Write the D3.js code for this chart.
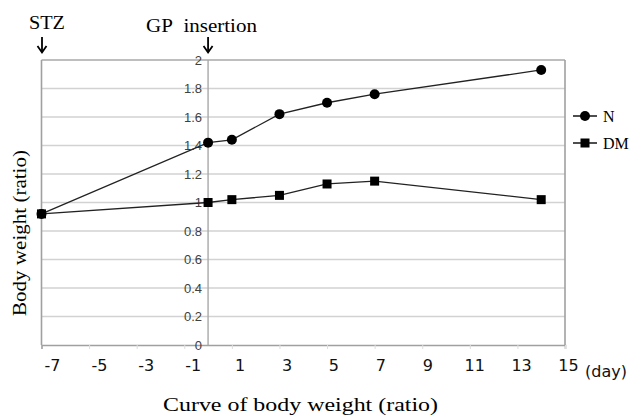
<!DOCTYPE html>
<html>
<head>
<meta charset="utf-8">
<script src="https://cdn.jsdelivr.net/npm/d3@7"></script>
<style>
  html, body { margin: 0; padding: 0; background: #fff; }
  svg { display: block; }
</style>
</head>
<body>
<svg id="chart" width="633" height="416"></svg>
<script>
// ---- data ----
const days = [-7, 0, 1, 3, 5, 7, 14];
const seriesN = [0.92, 1.42, 1.44, 1.62, 1.70, 1.76, 1.93];
const seriesDM = [0.92, 1.00, 1.02, 1.05, 1.13, 1.15, 1.02];
const seriesNames = ["N", "DM"];
const xTickValues = [-5, -3, -1, 1, 3, 5, 7, 9, 11, 13, 15];
const xTickLabels = ["-7", "-5", "-3", "-1", "1", "3", "5", "7", "9", "11", "13", "15"];
const yTickLabels = [0, 0.2, 0.4, 0.6, 0.8, 1, 1.2, 1.4, 1.6, 1.8, 2];
const annotations = [{ day: -7, text: "STZ" }, { day: 0, text: "GP\u00A0\u00A0insertion" }];

// ---- layout ----
const svg = d3.select("#chart");
const pLeft = 41.5, pRight = 565, pTop = 60, pBottom = 345;
const x = d3.scaleLinear().domain([-7, 15]).range([pLeft, pRight]);
const y = d3.scaleLinear().domain([0, 2]).range([pBottom, pTop]);
// the day labels form a separate evenly spaced text row under the axis
const xLab = d3.scalePoint().domain(xTickLabels).range([52, 568]);

const serif = "'Liberation Serif', 'Times New Roman', serif";
const sans = "'DejaVu Sans', Verdana, sans-serif";

// horizontal gridlines
svg.append("g").selectAll("line").data(yTickLabels.filter(v => v > 0 && v < 2)).join("line")
  .attr("x1", pLeft).attr("x2", pRight)
  .attr("y1", d => y(d)).attr("y2", d => y(d))
  .attr("stroke", "#d2d2d2").attr("stroke-width", 1.6);

// top line
svg.append("line").attr("x1", pLeft).attr("x2", pRight).attr("y1", y(2)).attr("y2", y(2))
  .attr("stroke", "#a8a8a8").attr("stroke-width", 1.6);

// plot borders left/right
svg.append("line").attr("x1", pLeft).attr("x2", pLeft).attr("y1", y(2)).attr("y2", y(0))
  .attr("stroke", "#a0a0a0").attr("stroke-width", 1.6);
svg.append("line").attr("x1", pRight).attr("x2", pRight).attr("y1", y(2)).attr("y2", y(0))
  .attr("stroke", "#a0a0a0").attr("stroke-width", 1.6);

// vertical axis at day 0
svg.append("line").attr("x1", x(0)).attr("x2", x(0)).attr("y1", y(2)).attr("y2", y(0))
  .attr("stroke", "#a8a8a8").attr("stroke-width", 1.4);

// x axis (bottom) with faint tick marks
const xAxis = d3.axisBottom(x).tickValues(xTickValues).tickSize(4).tickFormat("");
const gx = svg.append("g").attr("transform", `translate(0,${pBottom})`).call(xAxis);
gx.select(".domain").attr("stroke", "#a0a0a0").attr("stroke-width", 1.6);
gx.selectAll(".tick line").attr("stroke", "#dddddd").attr("stroke-width", 1);

// day label row
const xLabAxis = d3.axisBottom(xLab).tickSize(0).tickPadding(15);
const gl = svg.append("g").attr("transform", `translate(0,${pBottom})`).call(xLabAxis);
gl.select(".domain").remove();
gl.selectAll(".tick text").attr("font-family", sans).attr("font-size", 16).attr("fill", "#111");
svg.append("text").attr("x", xLab("15") + 17).attr("y", 377)
  .attr("font-family", sans).attr("font-size", 16).attr("fill", "#111").text("(day)");

// y axis labels at day 0
const yAxis = d3.axisLeft(y).tickValues(yTickLabels).tickSize(0).tickPadding(6)
  .tickFormat(d => d3.format("~g")(d));
const gy = svg.append("g").attr("transform", `translate(${x(0)},0)`).call(yAxis)
  .attr("font-size", 13).attr("font-family", "'Liberation Sans', Arial, sans-serif");
gy.select(".domain").remove();
gy.selectAll(".tick text").attr("fill", "#404040");

// lines
const line = d3.line().x((d, i) => x(days[i])).y(d => y(d));
[seriesN, seriesDM].forEach(s => {
  svg.append("path").datum(s).attr("d", line)
    .attr("fill", "none").attr("stroke", "#222").attr("stroke-width", 1.3);
});

// markers
svg.append("g").selectAll("circle").data(seriesN).join("circle")
  .attr("cx", (d, i) => x(days[i])).attr("cy", d => y(d)).attr("r", 5).attr("fill", "#000");
svg.append("g").selectAll("rect").data(seriesDM).join("rect")
  .attr("x", (d, i) => x(days[i]) - 4.5).attr("y", d => y(d) - 4.5)
  .attr("width", 9).attr("height", 9).attr("fill", "#000");

// legend
const legend = svg.append("g");
seriesNames.forEach((name, i) => {
  const ly = 116 + i * 27;
  legend.append("line").attr("x1", 573).attr("x2", 597).attr("y1", ly).attr("y2", ly)
    .attr("stroke", "#222").attr("stroke-width", 1.6);
  if (i === 0) legend.append("circle").attr("cx", 585).attr("cy", ly).attr("r", 5).attr("fill", "#000");
  else legend.append("rect").attr("x", 580.5).attr("y", ly - 4.5).attr("width", 9).attr("height", 9).attr("fill", "#000");
  legend.append("text").attr("x", 603).attr("y", ly + 5.5).attr("font-family", serif)
    .attr("font-size", 16).attr("fill", "#000").text(name);
});

// annotations with arrows
annotations.forEach((a, i) => {
  const ax = x(a.day) + (i === 0 ? 0.5 : 0);
  const tx = i === 0 ? 47 : 201.5;
  const ty = i === 0 ? 29 : 32;
  const t = svg.append("text").attr("x", tx).attr("y", ty).attr("text-anchor", "middle")
    .attr("font-family", serif).attr("font-size", 18).attr("fill", "#000").text(a.text);
  t.attr("textLength", i === 0 ? 36 : 111).attr("lengthAdjust", "spacingAndGlyphs");
  svg.append("line").attr("x1", ax).attr("x2", ax).attr("y1", 37).attr("y2", 52)
    .attr("stroke", "#000").attr("stroke-width", 1.8);
  svg.append("path").attr("d", `M${ax - 4.5},${46} L${ax},${52.5} L${ax + 4.5},${46}`)
    .attr("fill", "none").attr("stroke", "#000").attr("stroke-width", 1.8);
});

// axis titles
svg.append("text").attr("x", 300.5).attr("y", 411).attr("text-anchor", "middle")
  .attr("font-family", serif).attr("font-size", 18).attr("fill", "#000")
  .attr("textLength", 275).attr("lengthAdjust", "spacingAndGlyphs")
  .text("Curve of body weight (ratio)");
svg.append("text").attr("transform", "translate(26,233) rotate(-90)").attr("text-anchor", "middle")
  .attr("font-family", serif).attr("font-size", 18).attr("fill", "#000")
  .attr("textLength", 166).attr("lengthAdjust", "spacingAndGlyphs")
  .text("Body weight (ratio)");
</script>
</body>
</html>
